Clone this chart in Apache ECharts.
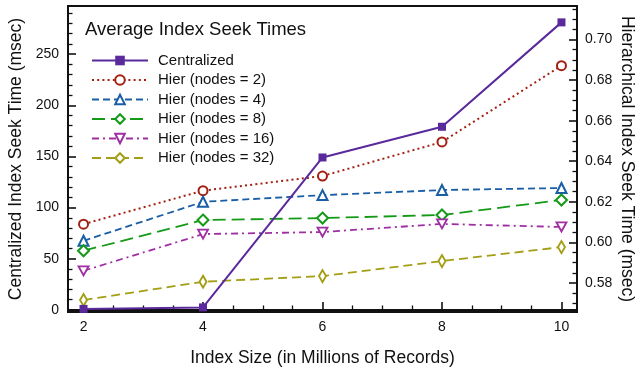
<!DOCTYPE html>
<html>
<head>
<meta charset="utf-8">
<script src="https://cdn.jsdelivr.net/npm/echarts@6/dist/echarts.min.js"></script>
<style>
  html, body { margin: 0; padding: 0; background: #fff; }
  #chart { width: 642px; height: 368px; }
</style>
</head>
<body>
<div id="chart"></div>
<script>
// Index size in millions of records
const indexSizes = [2, 4, 6, 8, 10];

// Centralized seek time (msec, left axis)
const centralized = [1, 2.5, 149, 179, 281];

// Hierarchical seek times (msec, right axis)
const hierNodes2  = [0.609, 0.6255, 0.6327, 0.6495, 0.6871];
const hierNodes4  = [0.6008, 0.620, 0.6233, 0.6258, 0.6268];
const hierNodes8  = [0.5959, 0.611, 0.612, 0.6135, 0.6209];
const hierNodes16 = [0.586, 0.6041, 0.6051, 0.6091, 0.6076];
const hierNodes32 = [0.5716, 0.5806, 0.5834, 0.5908, 0.5977];

// Tick positions
const xMajorTicks = [2, 4, 6, 8, 10];
const leftMajorTicks = [0, 50, 100, 150, 200, 250];
const rightMajorTicks = [0.58, 0.60, 0.62, 0.64, 0.66, 0.68, 0.70];

// Axis extents
const X_MIN = 1.74, X_MAX = 10.26;
const L_MIN = -2, L_MAX = 297;
const R_MIN = 0.5657, R_MAX = 0.7165;

function minorTicks(start, end, step, majors) {
  const out = [];
  for (let i = 0; ; i++) {
    const v = +(start + i * step).toFixed(6);
    if (v > end + 1e-9) break;
    if (!majors.some(m => Math.abs(m - v) < 1e-9)) out.push(v);
  }
  return out;
}
const xMinorTicks = minorTicks(2, 10, 0.5, xMajorTicks);
const leftMinorTicks = minorTicks(0, 290, 10, leftMajorTicks);
const rightMinorTicks = minorTicks(0.57, 0.715, 0.005, rightMajorTicks);

const FONT = '"Liberation Sans", Arial, Helvetica, sans-serif';
const INK = '#111';

function pairs(ys) { return indexSizes.map((x, i) => [x, ys[i]]); }

const chart = echarts.init(document.getElementById('chart'), null, { renderer: 'canvas' });

const majorTickStyle = { show: true, inside: true, length: 8, lineStyle: { color: INK, width: 1.6 } };
const minorTickStyle = { show: true, inside: true, length: 4.5, lineStyle: { color: INK, width: 1.3 } };

chart.setOption({
  animation: false,
  backgroundColor: '#fff',
  textStyle: { fontFamily: FONT },
  title: {
    text: 'Average Index Seek Times',
    left: 85, top: 20,
    padding: 0,
    textStyle: { fontFamily: FONT, fontSize: 18.5, fontWeight: 'normal', color: INK }
  },
  legend: {
    orient: 'vertical',
    left: 91, top: 53,
    padding: 0,
    itemWidth: 56, itemHeight: 12, itemGap: 4.5,
    textStyle: { fontFamily: FONT, fontSize: 15, color: INK, padding: [0, 0, 0, 5] },
    data: ['Centralized', 'Hier (nodes = 2)', 'Hier (nodes = 4)', 'Hier (nodes = 8)', 'Hier (nodes = 16)', 'Hier (nodes = 32)']
  },
  grid: {
    left: 68, right: 65, top: 6, bottom: 56,
    containLabel: false, outerBoundsMode: 'none',
    show: true, borderColor: INK, borderWidth: 2, backgroundColor: 'transparent'
  },
  xAxis: [
    {
      type: 'value', min: X_MIN, max: X_MAX, position: 'bottom',
      name: 'Index Size (in Millions of Records)',
      nameLocation: 'middle', nameGap: 37,
      nameTextStyle: { fontFamily: FONT, fontSize: 17.5, color: INK },
      axisLine: { show: true, lineStyle: { color: INK, width: 2 } },
      axisTick: Object.assign({ customValues: xMajorTicks }, majorTickStyle),
      axisLabel: { customValues: xMajorTicks, margin: 8, fontFamily: FONT, fontSize: 14, color: INK },
      splitLine: { show: false }
    },
    {
      type: 'value', min: X_MIN, max: X_MAX, position: 'bottom',
      axisLine: { show: false },
      axisTick: Object.assign({ customValues: xMinorTicks }, minorTickStyle),
      axisLabel: { show: false },
      splitLine: { show: false }
    }
  ],
  yAxis: [
    {
      type: 'value', min: L_MIN, max: L_MAX, position: 'left',
      name: 'Centralized Index Seek Time (msec)',
      nameLocation: 'middle', nameRotate: 90, nameGap: 42,
      nameTextStyle: { fontFamily: FONT, fontSize: 17.5, color: INK },
      axisLine: { show: true, lineStyle: { color: INK, width: 2 } },
      axisTick: Object.assign({ customValues: leftMajorTicks }, majorTickStyle),
      axisLabel: { customValues: leftMajorTicks, margin: 9, fontFamily: FONT, fontSize: 14, color: INK },
      splitLine: { show: false }
    },
    {
      type: 'value', min: R_MIN, max: R_MAX, position: 'right',
      name: 'Hierarchical Index Seek Time (msec)',
      nameLocation: 'middle', nameRotate: -90, nameGap: 41, nameMoveOverlap: false,
      nameTextStyle: { fontFamily: FONT, fontSize: 17.5, color: INK },
      axisLine: { show: true, lineStyle: { color: INK, width: 2 } },
      axisTick: Object.assign({ customValues: rightMajorTicks }, majorTickStyle),
      axisLabel: { customValues: rightMajorTicks, margin: 8, fontFamily: FONT, fontSize: 14, color: INK,
                   formatter: v => v.toFixed(2) },
      splitLine: { show: false }
    },
    {
      type: 'value', min: L_MIN, max: L_MAX, position: 'left',
      axisLine: { show: false },
      axisTick: Object.assign({ customValues: leftMinorTicks }, minorTickStyle),
      axisLabel: { show: false },
      splitLine: { show: false }
    },
    {
      type: 'value', min: R_MIN, max: R_MAX, position: 'right',
      axisLine: { show: false },
      axisTick: Object.assign({ customValues: rightMinorTicks }, minorTickStyle),
      axisLabel: { show: false },
      splitLine: { show: false }
    }
  ],
  series: [
    {
      name: 'Centralized', type: 'line', yAxisIndex: 0, data: pairs(centralized),
      symbol: 'rect', symbolSize: 8,
      itemStyle: { color: '#5a2a9c' },
      lineStyle: { color: '#5a2a9c', width: 2, type: 'solid' },
      z: 5
    },
    {
      name: 'Hier (nodes = 2)', type: 'line', yAxisIndex: 1, data: pairs(hierNodes2),
      symbol: 'emptyCircle', symbolSize: 9,
      itemStyle: { color: '#a31f12', borderWidth: 1.8 },
      lineStyle: { color: '#a31f12', width: 2, type: [2, 3.2] }
    },
    {
      name: 'Hier (nodes = 4)', type: 'line', yAxisIndex: 1, data: pairs(hierNodes4),
      symbol: 'emptyTriangle', symbolSize: 10,
      itemStyle: { color: '#1a5ea6', borderWidth: 1.8 },
      lineStyle: { color: '#1a5ea6', width: 1.8, type: [7, 4] }
    },
    {
      name: 'Hier (nodes = 8)', type: 'line', yAxisIndex: 1, data: pairs(hierNodes8),
      symbol: 'emptyDiamond', symbolSize: 11,
      itemStyle: { color: '#149a17', borderWidth: 1.8 },
      lineStyle: { color: '#149a17', width: 1.8, type: [13, 6] }
    },
    {
      name: 'Hier (nodes = 16)', type: 'line', yAxisIndex: 1, data: pairs(hierNodes16),
      symbol: 'path://M0,0 L10,0 L5,9 Z', symbolSize: [10, 9],
      itemStyle: { color: '#fff', borderColor: '#a02ea3', borderWidth: 1.8 },
      lineStyle: { color: '#a02ea3', width: 1.8, type: [7, 4, 2, 4] }
    },
    {
      name: 'Hier (nodes = 32)', type: 'line', yAxisIndex: 1, data: pairs(hierNodes32),
      symbol: 'emptyDiamond', symbolSize: [7, 12],
      itemStyle: { color: '#a39e14', borderWidth: 1.8 },
      lineStyle: { color: '#a39e14', width: 1.8, type: [9, 5] }
    }
  ]
});
</script>
</body>
</html>
